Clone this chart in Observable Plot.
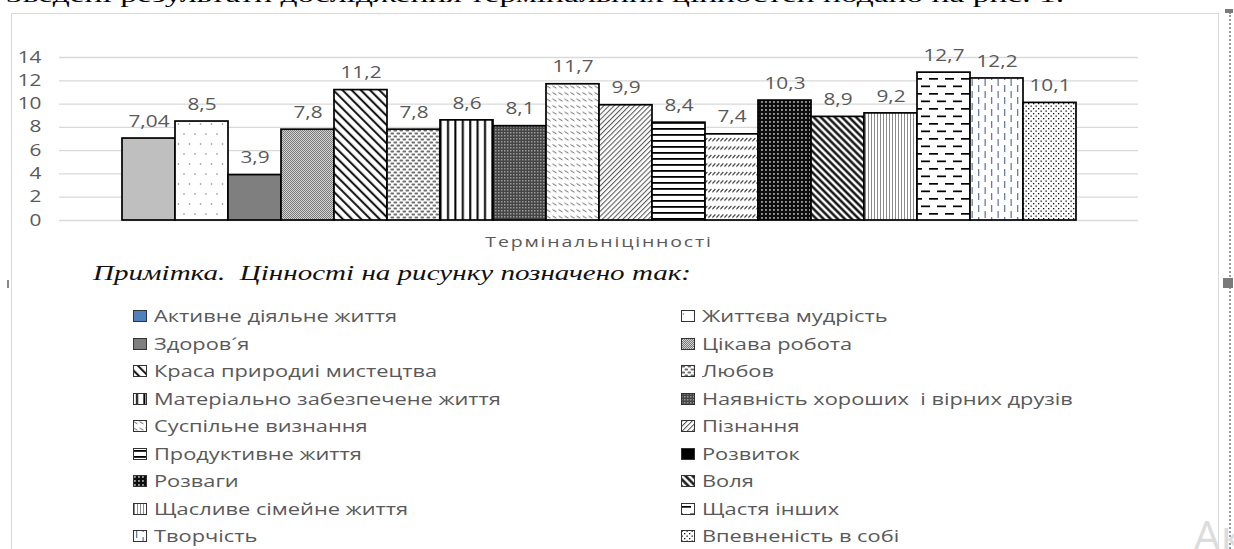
<!DOCTYPE html>
<html><head><meta charset="utf-8">
<script src="https://cdn.jsdelivr.net/npm/d3@7"></script>
<script src="https://cdn.jsdelivr.net/npm/@observablehq/plot@0.6"></script>
<style>
html,body{margin:0;padding:0;background:#fff;width:1234px;height:549px;overflow:hidden;}
#page{position:relative;width:1234px;height:549px;overflow:hidden;font-family:"Open Sans",sans-serif;}
.frame{position:absolute;left:11px;top:13px;width:1208px;height:600px;border:1px solid #d9d9d9;box-sizing:border-box;}
.dotted{position:absolute;left:1229px;top:12px;width:0;height:560px;border-left:2px dotted #9a9a9a;}
.handle{position:absolute;background:#7a7a7a;}
#chart{position:absolute;left:0;top:0;}
.topline{position:absolute;left:6px;top:-15px;font-family:"Liberation Serif",serif;font-size:21px;line-height:21px;white-space:nowrap;transform-origin:0 0;color:#000;}
.note{position:absolute;left:93px;top:260px;font-family:"Liberation Serif",serif;font-style:italic;font-size:22px;line-height:26px;white-space:pre;transform-origin:0 50%;color:#111;}
.item{position:absolute;height:20px;display:flex;align-items:center;}
.item svg{flex:none;}
.item span{display:inline-block;margin-left:7px;font-size:16px;color:#595959;white-space:pre;transform-origin:0 50%;}
.wm{position:absolute;left:1193px;top:505px;font-size:44px;color:#dcdcdc;font-family:"Open Sans",sans-serif;white-space:nowrap;}
</style></head>
<body><div id="page">
<svg width="0" height="0" style="position:absolute">
<defs>
<pattern id="pat0" patternUnits="userSpaceOnUse" width="4" height="4"><rect width="4" height="4" fill="#bfbfbf"/></pattern>
<pattern id="pat1" patternUnits="userSpaceOnUse" width="11" height="20"><rect width="11" height="20" fill="#fff"/><circle cx="2.5" cy="4" r="0.8" fill="#808080"/><circle cx="8" cy="14" r="0.8" fill="#808080"/></pattern>
<pattern id="pat2" patternUnits="userSpaceOnUse" width="4" height="4"><rect width="4" height="4" fill="#7f7f7f"/></pattern>
<pattern id="pat3" patternUnits="userSpaceOnUse" width="2" height="2"><rect width="2" height="2" fill="#d4d4d4"/><rect width="1" height="1" fill="#7a7a7a"/><rect x="1" y="1" width="1" height="1" fill="#7a7a7a"/></pattern>
<pattern id="pat4" patternUnits="userSpaceOnUse" width="6.5" height="6.5" patternTransform="rotate(-45)"><rect width="6.5" height="6.5" fill="#fff"/><line x1="3" y1="0" x2="3" y2="6.5" stroke="#000" stroke-width="1.9"/></pattern>
<pattern id="pat5" patternUnits="userSpaceOnUse" width="6" height="6"><rect width="6" height="6" fill="#fff"/><rect x="0.5" y="0.5" width="3.6" height="2" rx="0.8" fill="#6e6e6e"/><rect x="3.5" y="3.5" width="3.6" height="2" rx="0.8" fill="#6e6e6e"/><rect x="-2.5" y="3.5" width="3.6" height="2" rx="0.8" fill="#6e6e6e"/></pattern>
<pattern id="pat6" patternUnits="userSpaceOnUse" width="7.4" height="4"><rect width="7.4" height="4" fill="#fff"/><rect x="3" y="0" width="2" height="4" fill="#000"/></pattern>
<pattern id="pat7" patternUnits="userSpaceOnUse" width="3" height="3"><rect width="3" height="3" fill="#454545"/><rect width="1.5" height="1.5" fill="#9a9a9a"/></pattern>
<pattern id="pat8" patternUnits="userSpaceOnUse" width="6" height="6.5"><rect width="6" height="6.5" fill="#fff"/><path d="M0.5,1.5 L4.5,3.8" stroke="#505050" stroke-width="0.9"/></pattern>
<pattern id="pat9" patternUnits="userSpaceOnUse" width="3.6" height="3.6" patternTransform="rotate(45)"><rect width="3.6" height="3.6" fill="#fff"/><line x1="1.5" y1="0" x2="1.5" y2="3.6" stroke="#3a3a3a" stroke-width="0.9"/></pattern>
<pattern id="pat10" patternUnits="userSpaceOnUse" width="4" height="6"><rect width="4" height="6" fill="#fff"/><rect x="0" y="2" width="4" height="1.8" fill="#000"/></pattern>
<pattern id="pat11" patternUnits="userSpaceOnUse" width="4" height="8.5"><rect width="4" height="8.5" fill="#fff"/><path d="M0.4,5 L3.4,2" stroke="#1a1a1a" stroke-width="1.1"/></pattern>
<pattern id="pat12" patternUnits="userSpaceOnUse" width="4" height="4"><rect width="4" height="4" fill="#0d0d0d"/><rect x="1.2" y="1.2" width="1.5" height="1.5" fill="#e6e6e6"/></pattern>
<pattern id="pat13" patternUnits="userSpaceOnUse" width="5" height="5" patternTransform="rotate(-45)"><rect width="5" height="5" fill="#fff"/><line x1="2.5" y1="0" x2="2.5" y2="5" stroke="#000" stroke-width="2.3"/></pattern>
<pattern id="pat14" patternUnits="userSpaceOnUse" width="3" height="4"><rect width="3" height="4" fill="#fff"/><rect x="1" y="0" width="1" height="4" fill="#8a8a8a"/></pattern>
<pattern id="pat15" patternUnits="userSpaceOnUse" width="16" height="15"><rect width="16" height="15" fill="#fff"/><rect x="1" y="3" width="9" height="1.7" fill="#000"/><rect x="9" y="10.5" width="9" height="1.7" fill="#000"/><rect x="-7" y="10.5" width="9" height="1.7" fill="#000"/></pattern>
<pattern id="pat16" patternUnits="userSpaceOnUse" width="13" height="24"><rect width="13" height="24" fill="#fff"/><rect x="3" y="1" width="1.3" height="7" fill="#6a7ba0"/><rect x="3" y="13" width="1.3" height="7" fill="#6a7ba0"/><rect x="9.5" y="7" width="1.3" height="7" fill="#6a7ba0"/><rect x="9.5" y="19" width="1.3" height="7" fill="#6a7ba0"/><rect x="9.5" y="-5" width="1.3" height="7" fill="#6a7ba0"/></pattern>
<pattern id="pat17" patternUnits="userSpaceOnUse" width="5" height="5"><rect width="5" height="5" fill="#fff"/><rect x="0.5" y="0.5" width="1.3" height="1.3" fill="#111"/><rect x="3" y="3" width="1.3" height="1.3" fill="#111"/></pattern>
</defs></svg>
<div class="topline" id="topline">Зведені результати дослідження термінальних цінностей подано на рис. 1.</div>
<div class="frame"></div>
<div class="dotted"></div>
<div class="handle" style="left:1225px;top:9px;width:8px;height:4px;"></div>
<div class="handle" style="left:1223px;top:278px;width:10px;height:10px;"></div>
<div class="handle" style="left:7px;top:280px;width:1.5px;height:8px;background:#888;"></div>
<div id="chart"></div>
<div class="note" id="note"></div>
<div id="legend"></div>
<div class="wm">Активація Windows</div>
</div>
<script>
const categories = [
  "Активне діяльне життя", "Життєва мудрість", "Здоров´я", "Цікава робота",
  "Краса природиі мистецтва", "Любов", "Матеріально забезпечене життя", "Наявність хороших  і вірних друзів",
  "Суспільне визнання", "Пізнання", "Продуктивне життя", "Розвиток",
  "Розваги", "Воля", "Щасливе сімейне життя", "Щастя інших",
  "Творчість", "Впевненість в собі"
];
const values = [7.04, 8.5, 3.9, 7.8, 11.2, 7.8, 8.6, 8.1, 11.7, 9.9, 8.4, 7.4, 10.3, 8.9, 9.2, 12.7, 12.2, 10.1];
const valueLabels = ["7,04", "8,5", "3,9", "7,8", "11,2", "7,8", "8,6", "8,1", "11,7", "9,9", "8,4", "7,4", "10,3", "8,9", "9,2", "12,7", "12,2", "10,1"];
const yTicks = [0, 2, 4, 6, 8, 10, 12, 14];
const groupLabel = "Термінальніцінності";
const noteText = "Примітка.  Цінності на рисунку позначено так:";

const data = categories.map((name, i) => ({name, value: values[i], label: valueLabels[i], fill: `url(#pat${i})`}));

const chart = Plot.plot({
  width: 1234,
  height: 250,
  marginTop: 57,
  marginBottom: 30,
  marginLeft: 59,
  marginRight: 96,
  x: {domain: categories, range: [120.5, 1078], padding: 0, axis: null},
  y: {domain: [0, 14], ticks: yTicks, tickSize: 0, tickPadding: 18, label: null, tickFormat: d => String(d)},
  color: {type: "identity"},
  style: {fontFamily: "Open Sans", fontSize: "16px", color: "#595959", background: "transparent", overflow: "visible"},
  marks: [
    Plot.ruleY(yTicks, {stroke: "#d9d9d9", strokeWidth: 1.3}),
    Plot.barY(data, {x: "name", y: "value", fill: "fill", stroke: "#000", strokeWidth: 1.7}),
    Plot.text(data, {x: "name", y: "value", text: "label", dy: -17, lineAnchor: "middle", fill: "#595959", fontSize: 16}),
    Plot.text([groupLabel], {text: d => d, frameAnchor: "bottom", dy: 22, lineAnchor: "middle", fill: "#595959", fontSize: 15, className: "grouplabel"})
  ]
});
document.getElementById("chart").appendChild(chart);
chart.querySelectorAll(".grouplabel text").forEach(t => t.style.letterSpacing = "1.4px");

// horizontal stretch of svg text, as in the reference picture
function stretchText(svg, s) {
  svg.querySelectorAll("text").forEach(t => {
    const bb = t.getBBox();
    const anchor = getComputedStyle(t).textAnchor;
    const ax = anchor === "middle" ? bb.x + bb.width / 2 : anchor === "end" ? bb.x + bb.width : bb.x;
    const tr = t.getAttribute("transform") || "";
    t.setAttribute("transform", `${tr} translate(${ax},0) scale(${s},1) translate(${-ax},0)`);
  });
}
stretchText(chart, 1.3);

function fitWidth(el, target) {
  const w = el.getBoundingClientRect().width;
  el.style.transform = `scaleX(${target / w})`;
}

const note = document.getElementById("note");
note.textContent = noteText;
fitWidth(note, 598);
fitWidth(document.getElementById("topline"), 1058);

// legend: two columns, series read row-wise
const legend = document.getElementById("legend");
const swatchFill = categories.map((c, i) => i === 0 ? "#4f81bd" : i === 11 ? "#000" : `url(#pat${i})`);
const spans = [];
categories.forEach((c, i) => {
  const col = i % 2, row = Math.floor(i / 2);
  const item = document.createElement("div");
  item.className = "item";
  item.style.left = (col === 0 ? 133 : 681) + "px";
  item.style.top = (316 + row * 27.5 - 10) + "px";
  item.innerHTML = `<svg width="14" height="12"><rect x="0.5" y="0.5" width="13" height="11" fill="${swatchFill[i]}" stroke="#333" stroke-width="1"/></svg><span></span>`;
  const sp = item.querySelector("span");
  sp.textContent = c;
  legend.appendChild(item);
  spans.push(sp);
});
const w0 = spans[0].getBoundingClientRect().width;
const sc = 243 / w0;
spans.forEach(sp => sp.style.transform = `scaleX(${sc})`);
</script>
</body></html>
